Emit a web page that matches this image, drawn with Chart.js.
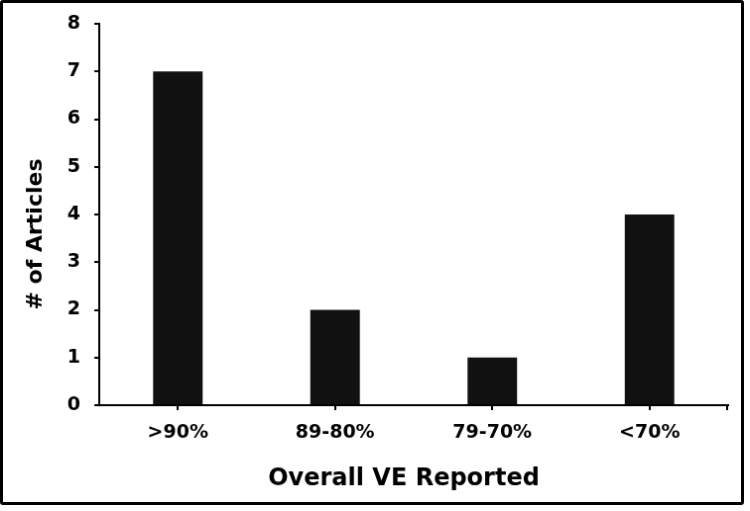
<!DOCTYPE html>
<html>
<head>
<meta charset="utf-8">
<script src="https://cdn.jsdelivr.net/npm/chart.js@4/dist/chart.umd.min.js"></script>
<style>
  html, body { margin: 0; padding: 0; background: #fff; }
  #chart { display: block; border: 3px solid #000; border-radius: 3px; }
</style>
</head>
<body>
<canvas id="chart" width="744" height="505"></canvas>
<script>
const categories = ['>90%', '89-80%', '79-70%', '<70%'];
const articleCounts = [7, 2, 1, 4];
const yMin = 0;
const yMax = 8;
const yStep = 1;
const xTitle = 'Overall VE Reported';
const yTitle = '# of Articles';

const fontFamily = '"DejaVu Sans", sans-serif';

// axis titles and the closing tick at the right end of the x axis
const axisExtras = {
  id: 'axisExtras',
  afterDraw(chart) {
    const {ctx, chartArea} = chart;
    ctx.save();
    ctx.strokeStyle = '#000';
    ctx.lineWidth = 2;
    ctx.beginPath();
    ctx.moveTo(chartArea.left - 5, chartArea.bottom);
    ctx.lineTo(chartArea.left, chartArea.bottom);
    ctx.moveTo(chartArea.right - 1, chartArea.bottom);
    ctx.lineTo(chartArea.right - 1, chartArea.bottom + 5);
    ctx.stroke();

    ctx.fillStyle = '#000';
    ctx.textAlign = 'center';
    ctx.textBaseline = 'middle';
    ctx.font = `bold 24px ${fontFamily}`;
    ctx.fillText(xTitle, (chartArea.left + chartArea.right) / 2 - 10, chartArea.bottom + 75);

    ctx.translate(33, (chartArea.top + chartArea.bottom) / 2 + 20);
    ctx.rotate(-Math.PI / 2);
    ctx.font = `bold 22px ${fontFamily}`;
    ctx.fillText(yTitle, 0, 0);
    ctx.restore();
  }
};

new Chart(document.getElementById('chart'), {
  type: 'bar',
  data: {
    labels: categories,
    datasets: [{
      data: articleCounts,
      backgroundColor: '#111',
      borderWidth: 0,
      barPercentage: 0.315,
      categoryPercentage: 1
    }]
  },
  options: {
    responsive: false,
    animation: false,
    layout: { padding: { top: 21, right: 13, left: 0, bottom: 0 } },
    plugins: {
      legend: { display: false },
      tooltip: { enabled: false }
    },
    scales: {
      x: {
        afterFit: scale => { scale.height = 98; },
        grid: {
          offset: false,
          drawOnChartArea: false,
          drawTicks: true,
          tickLength: 5,
          color: '#000',
          lineWidth: 2
        },
        border: { display: true, color: '#000', width: 2 },
        ticks: {
          color: '#000',
          padding: 12,
          font: { family: fontFamily, size: 19, weight: 'bold' }
        }
      },
      y: {
        min: yMin,
        max: yMax,
        afterFit: scale => {
          scale.width = 97;
          scale.paddingTop = 0;
          scale.paddingBottom = 0;
        },
        grid: {
          drawOnChartArea: false,
          drawTicks: true,
          tickLength: 5,
          color: '#000',
          lineWidth: 2
        },
        border: { display: true, color: '#000', width: 2 },
        ticks: {
          stepSize: yStep,
          color: '#000',
          padding: 14,
          font: { family: fontFamily, size: 19, weight: 'bold' }
        }
      }
    }
  },
  plugins: [axisExtras]
});
</script>
</body>
</html>
